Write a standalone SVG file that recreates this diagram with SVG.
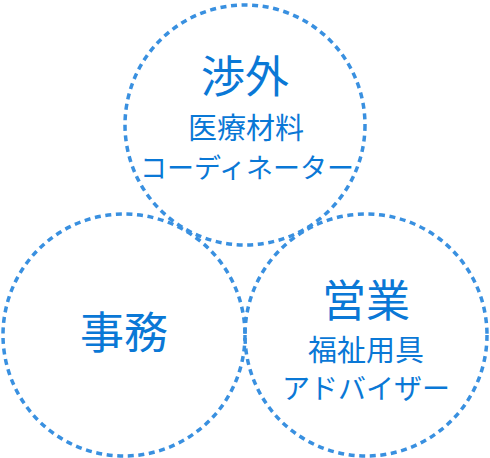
<svg xmlns="http://www.w3.org/2000/svg" width="490" height="458" viewBox="0 0 490 458">
<style>
.c{fill:none;stroke:#3990e0;stroke-width:3.5;stroke-dasharray:6 4.6}
.t{fill:#0a78d6;font-family:"Noto Sans CJK JP","Noto Sans",sans-serif;text-anchor:middle}
.l{font-size:44px}
.s{font-size:29px}
.k{font-size:28px}
.k2{font-size:27px}
</style>
<rect width="490" height="458" fill="#fff"/>
<g id="top">
<circle class="c" cx="245" cy="125" r="120"/>
<text class="t l" x="245" y="93">渉外</text>
<text class="t s" x="246" y="139">医療材料</text>
<text class="t k2" x="247" y="178">コーディネーター</text>
</g>
<g id="left">
<circle class="c" cx="124" cy="335" r="121"/>
<text class="t l" x="124" y="349">事務</text>
</g>
<g id="right">
<circle class="c" cx="366" cy="335" r="121"/>
<text class="t l" x="366" y="317">営業</text>
<text class="t s" x="366" y="361">福祉用具</text>
<text class="t k" x="366" y="399">アドバイザー</text>
</g>
</svg>
